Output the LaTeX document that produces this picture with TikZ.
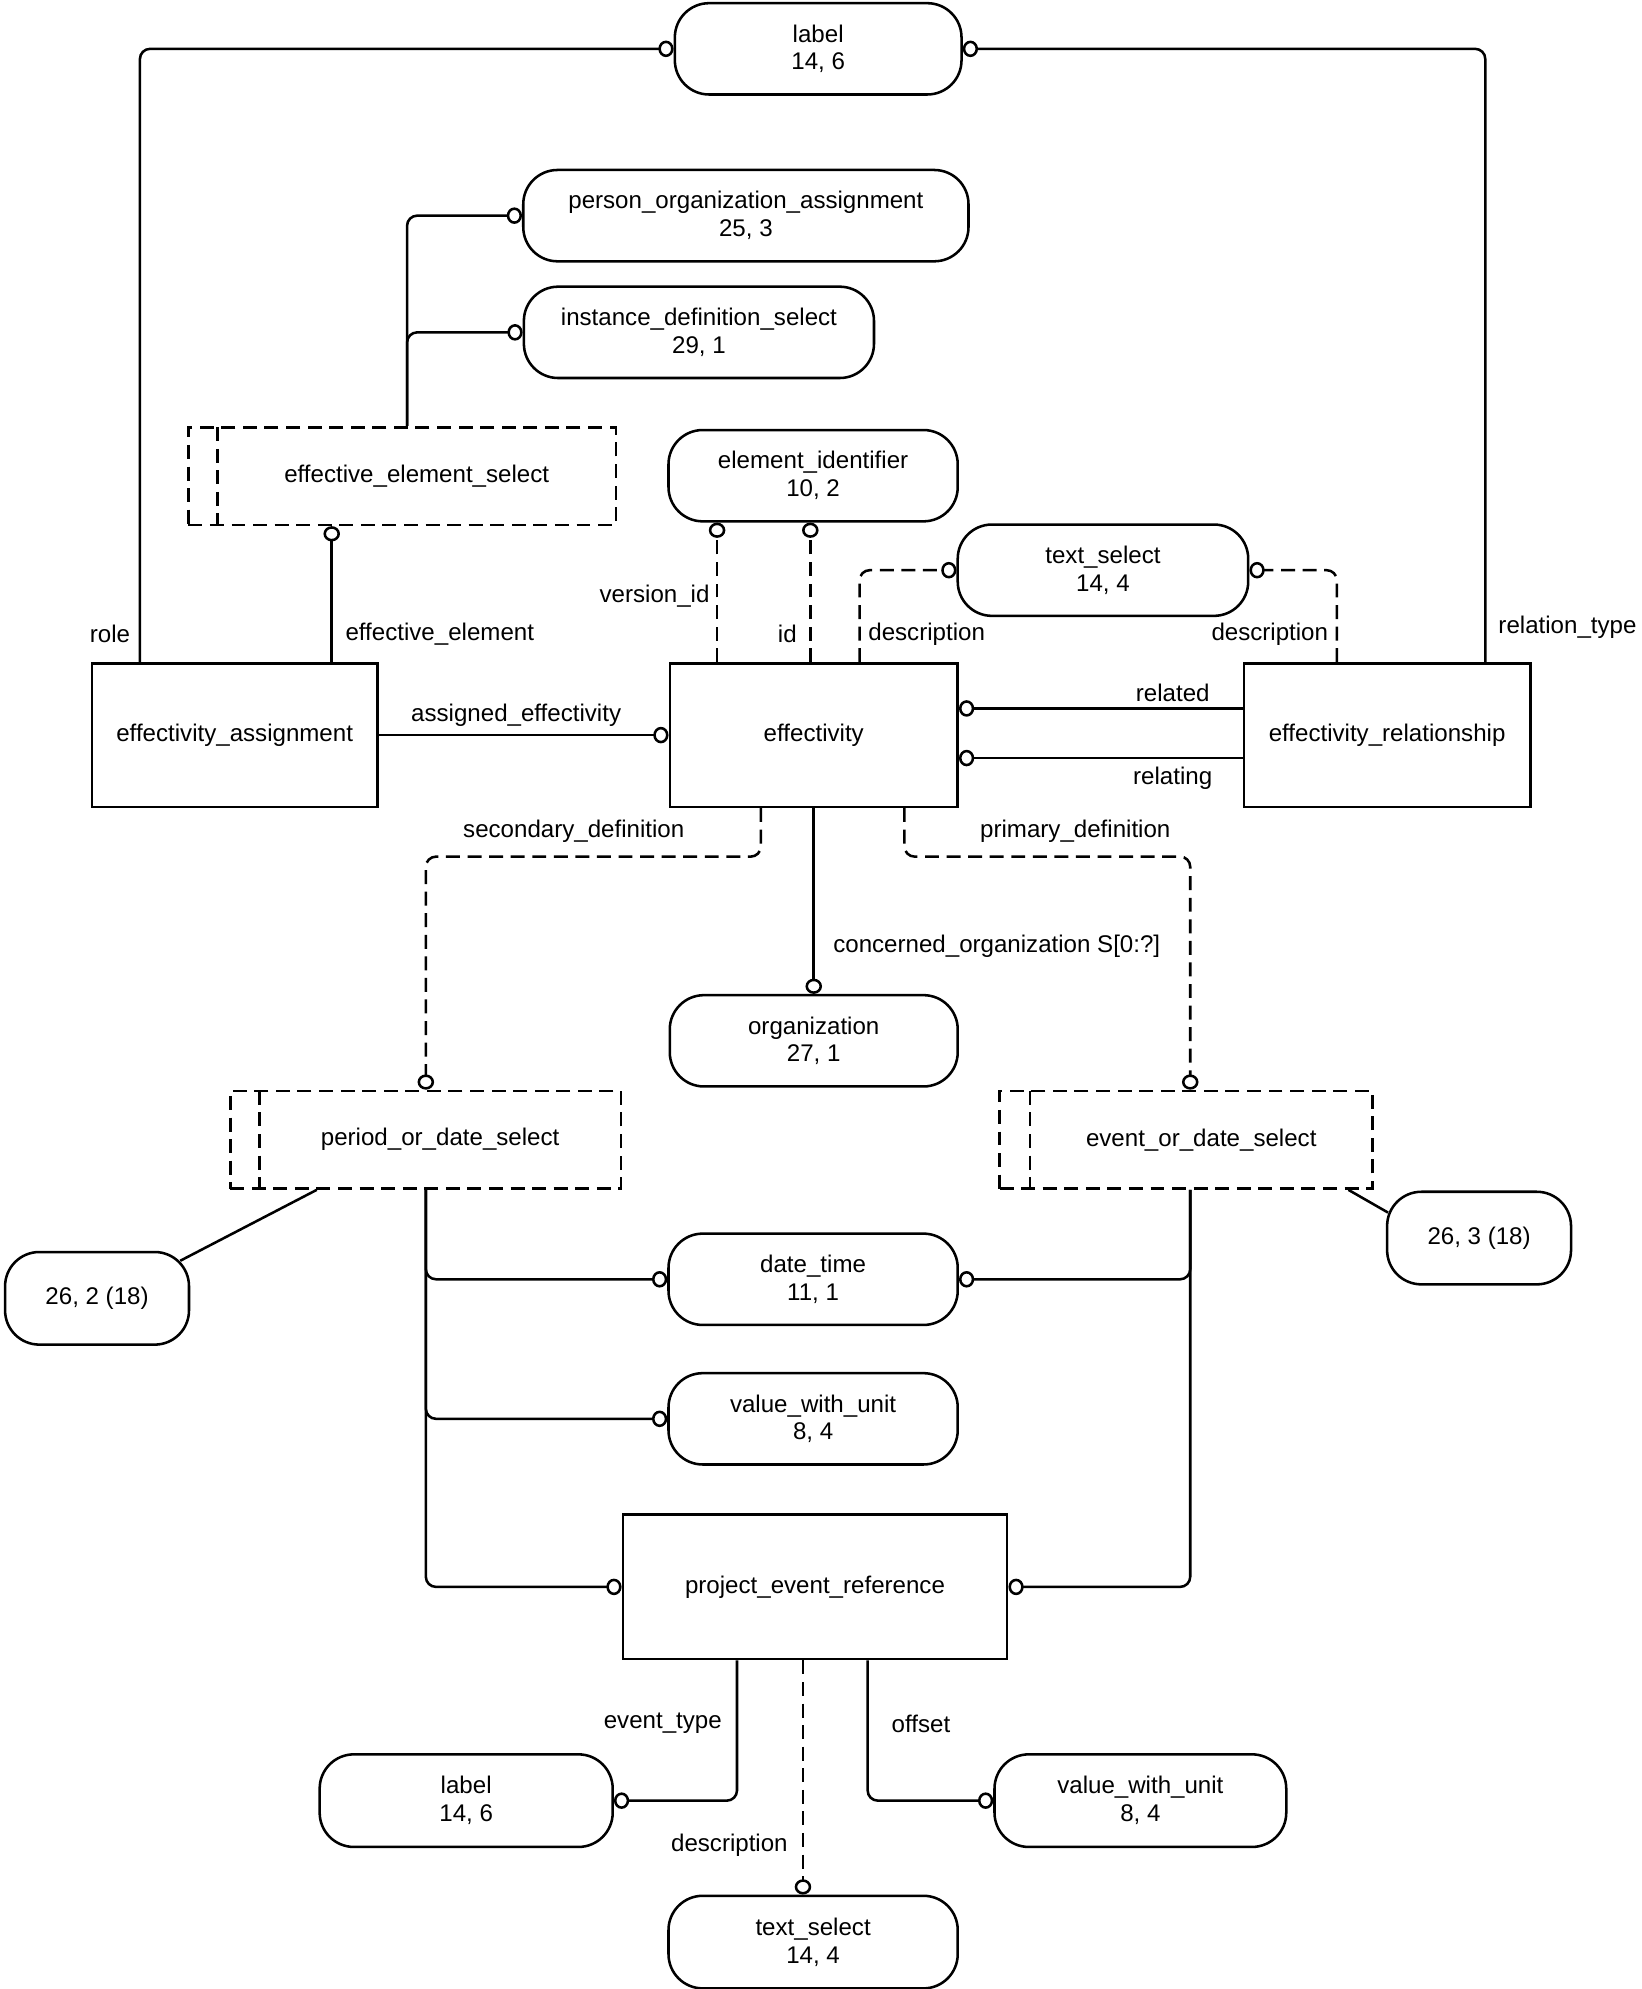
\documentclass[tikz,border=0pt]{standalone}
\usepackage{fontspec}
\setmainfont{Liberation Sans}
\usetikzlibrary{arrows.meta,calc}
\begin{document}
\begin{tikzpicture}[x=0.5pt,y=-0.5pt,
  every node/.style={font=\fontsize{9.5}{11}\selectfont, text=black},
  entity/.style={draw, line width=1pt, rectangle, inner sep=0pt, align=center},
  defbox/.style={draw, line width=1pt, rectangle, rounded corners=13.5pt, align=center, inner sep=0pt},
  selbox/.style={draw, line width=1pt, dash pattern=on 5.5pt off 3pt, rectangle, inner sep=0pt,
    path picture={\draw[line width=1pt, dash pattern=on 5.5pt off 3pt] ([xshift=#1]path picture bounding box.north west) -- ([xshift=#1]path picture bounding box.south west);}},
  selbox/.default=11.5pt,
  conn/.style={line width=1pt, rounded corners=4pt, -{Circle[open,length=6pt,width=6.5pt]}},
  dconn/.style={conn, dash pattern=on 5.5pt off 3pt},
  plain/.style={line width=1pt},
  lbl/.style={inner sep=0pt}
]
\useasboundingbox (0,0) rectangle (1294,1568);
\fill[white] (0,0) rectangle (1294,1568);

% entities
\node[entity, minimum width=112.5pt, minimum height=56.5pt] (ea) at (185,579.5) {effectivity\_assignment};
\node[entity, minimum width=113.5pt, minimum height=56.5pt] (eff) at (641.5,579.5) {effectivity};
\node[entity, minimum width=113pt, minimum height=56.5pt] (er) at (1093.5,579.5) {effectivity\_relationship};
\node[entity, minimum width=151.5pt, minimum height=57pt] (per) at (642.5,1251) {project\_event\_reference};

% select types
\node[selbox=11.5pt, minimum width=168.5pt, minimum height=38.5pt] (ees) at (317,375.3) {\hspace*{11.5pt}effective\_element\_select};
\node[selbox=11.5pt, minimum width=154pt, minimum height=38.5pt] (pods) at (335.5,898.5) {\hspace*{11.5pt}period\_or\_date\_select};
\node[selbox=12pt, minimum width=147pt, minimum height=38.5pt] (eods) at (935,898.5) {\hspace*{12pt}event\_or\_date\_select};

% defined types
\node[defbox, minimum width=113pt, minimum height=36pt] (lab1) at (645,38.5) {label\\14, 6};
\node[defbox, minimum width=175.5pt, minimum height=36pt] (poa) at (588,170) {person\_organization\_assignment\\25, 3};
\node[defbox, minimum width=138pt, minimum height=36pt] (ids) at (551,262) {instance\_definition\_select\\29, 1};
\node[defbox, minimum width=114pt, minimum height=36pt] (eid) at (641,375) {element\_identifier\\10, 2};
\node[defbox, minimum width=114.5pt, minimum height=36pt] (ts1) at (869.5,449.5) {text\_select\\14, 4};
\node[defbox, minimum width=113.5pt, minimum height=36pt] (org) at (641.5,820.5) {organization\\27, 1};
\node[defbox, minimum width=114pt, minimum height=36pt] (dt) at (641,1008.5) {date\_time\\11, 1};
\node[defbox, minimum width=114pt, minimum height=36pt] (vwu1) at (641,1118.5) {value\_with\_unit\\8, 4};
\node[defbox, minimum width=115.5pt, minimum height=36.5pt] (lab2) at (367.5,1419.5) {label\\14, 6};
\node[defbox, minimum width=115pt, minimum height=36.5pt] (vwu2) at (899,1419.5) {value\_with\_unit\\8, 4};
\node[defbox, minimum width=114pt, minimum height=36.5pt] (ts2) at (641,1531) {text\_select\\14, 4};
\node[defbox, minimum width=72.5pt, minimum height=36.5pt] (p262) at (76.5,1023.5) {26, 2 (18)};
\node[defbox, minimum width=72.5pt, minimum height=36.5pt] (p263) at (1166,976) {26, 3 (18)};

% connectors
\draw[conn] ($(ea.north west)+(38.8,0)$) |- (lab1.west);
\draw[conn] ($(er.north west)+(191.4,0)$) |- (lab1.east);
\draw[conn] ($(ees.north west)+(173.4,0)$) |- (poa.west);
\draw[conn] ($(ees.north west)+(173.4,0)$) |- (ids.west);
\draw[conn] ($(ea.north west)+(190,0)$) coordinate (c1) -- (c1 |- ees.south);
\draw[conn] (ea.east) -- (eff.west);
\draw[dconn] ($(eff.north west)+(38.3,0)$) coordinate (c2) -- (c2 |- eid.south);
\draw[dconn] ($(eff.north west)+(111.8,0)$) coordinate (c3) -- (c3 |- eid.south);
\draw[dconn] ($(eff.north west)+(150.6,0)$) |- (ts1.west);
\draw[dconn] ($(er.north west)+(74.4,0)$) |- (ts1.east);
\draw[conn] ($(er.north west)+(0,36.5)$) -- ($(eff.north east)+(0,36.5)$);
\draw[conn] ($(er.north west)+(0,75.6)$) -- ($(eff.north east)+(0,75.6)$);
\draw[dconn] ($(eff.south west)+(72.8,0)$) -- ++(0,38.3) -| ($(pods.north west)+(155.2,0)$);
\draw[dconn] ($(eff.south west)+(186,0)$) -- ++(0,38.3) -| ($(eods.north west)+(151.3,0)$);
\draw[conn] (eff.south) -- (org.north);
\draw[plain] ($(pods.south west)+(69.2,0)$) -- ($(p262.north east)+(-7.9,7.9)$);
\draw[plain] ($(eods.south west)+(276,0)$) -- ($(p263.north west)+(1.7,17.4)$);
\draw[conn] ($(pods.south west)+(155.2,0)$) |- (dt.west);
\draw[conn] ($(pods.south west)+(155.2,0)$) |- (vwu1.west);
\draw[conn] ($(pods.south west)+(155.2,0)$) |- (per.west);
\draw[conn] ($(eods.south west)+(151.3,0)$) |- (dt.east);
\draw[conn] ($(eods.south west)+(151.3,0)$) |- (per.east);
\draw[conn] ($(per.south west)+(91,0)$) |- (lab2.east);
\draw[conn] ($(per.south west)+(194,0)$) |- (vwu2.west);
\draw[dconn] ($(per.south west)+(143,0)$) coordinate (c4) -- (c4 |- ts2.north);

% connector labels
\node[lbl] (t1) at (86.7,499.7) {role};
\node[lbl] (t2) at (346.7,499.7) {effective\_element};
\node[lbl] (t3) at (516,469.8) {version\_id};
\node[lbl] (t4) at (620.7,499.7) {id};
\node[lbl] (t5) at (730.5,499.7) {description};
\node[lbl] (t6) at (1001,499.7) {description};
\node[lbl] (t7) at (1235.7,494.3) {relation\_type};
\node[lbl] (t8) at (924.5,546) {related};
\node[lbl] (t9) at (924.5,613.3) {relating};
\node[lbl] (t10) at (406.9,564) {assigned\_effectivity};
\node[lbl] (t11) at (452.3,655.6) {secondary\_definition};
\node[lbl] (t12) at (847.7,655.6) {primary\_definition};
\node[lbl] (t13) at (785.8,746) {concerned\_organization S[0:?]};
\node[lbl] (t14) at (522.5,1358.8) {event\_type};
\node[lbl] (t15) at (726,1359) {offset};
\node[lbl] (t16) at (575,1455) {description};
\end{tikzpicture}
\end{document}
